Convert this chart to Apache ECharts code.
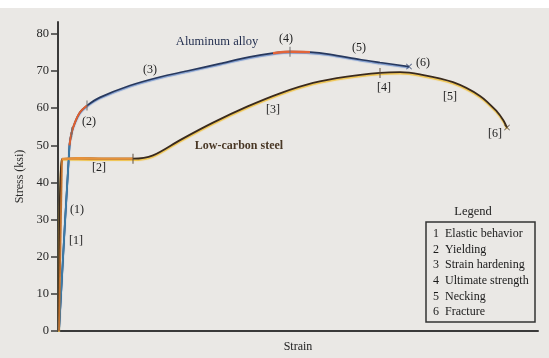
<!DOCTYPE html>
<html>
<head>
<meta charset="utf-8">
<script src="https://cdn.jsdelivr.net/npm/echarts@6/dist/echarts.min.js"></script>
<style>
  html, body { margin: 0; padding: 0; background: #ffffff; }
  #chart { width: 549px; height: 358px; }
</style>
</head>
<body>
<div id="chart"></div>
<script>
// Stress–strain curves for an aluminum alloy and a low-carbon steel.
// Strain is in arbitrary (unlabelled) units, stress in ksi.
const alloyStrain = [0.001, 0.0115, 0.0137, 0.017, 0.022, 0.029, 0.042, 0.072, 0.102, 0.129, 0.162, 0.192, 0.215, 0.232, 0.252, 0.272, 0.302, 0.322, 0.351];
const alloyStress = [0, 50.0, 53.5, 56.2, 58.9, 60.7, 62.9, 66.1, 68.4, 70.0, 72.0, 73.8, 74.8, 75.2, 75.1, 74.5, 73.1, 72.3, 71.2];

const steelStrain = [0.001, 0.004, 0.02, 0.045, 0.075, 0.095, 0.122, 0.155, 0.189, 0.222, 0.255, 0.289, 0.322, 0.342, 0.362, 0.395, 0.422, 0.439, 0.445, 0.449];
const steelStress = [0, 46.3, 46.5, 46.4, 46.4, 47.3, 51.4, 56.1, 60.4, 64.0, 66.8, 68.5, 69.5, 69.7, 69.1, 67.0, 63.3, 59.1, 56.9, 54.8];

const stressTicks = [0, 10, 20, 30, 40, 50, 60, 70, 80];
const legendItems = ['1  Elastic behavior', '2  Yielding', '3  Strain hardening', '4  Ultimate strength', '5  Necking', '6  Fracture'];

// Stage boundaries (indices into the arrays above)
const alloyElastic = [0, 2];
const alloyYield = [1, 5];
const alloyUltimate = [12, 14];
const steelYield = [1, 4];
const alloyTicks = [2, 5, 13];
const steelTicks = [4, 12];

const pairs = (xs, ys) => xs.map((x, i) => [x, ys[i]]);
const slice = (arr, r) => arr.slice(r[0], r[1] + 1);
const alloy = pairs(alloyStrain, alloyStress);
const steel = pairs(steelStrain, steelStress);

const SERIF = '"Liberation Serif", "DejaVu Serif", serif';
const cross = 'path://M0,1L1,0L5,4L9,0L10,1L6,5L10,9L9,10L5,6L1,10L0,9L4,5Z';

function curve(data, color, width, extra) {
  return Object.assign({
    type: 'line', data: data, showSymbol: false, smooth: 0.3,
    lineStyle: { color: color, width: width }, silent: true, z: 3
  }, extra || {});
}

const chart = echarts.init(document.getElementById('chart'), null, { renderer: 'canvas' });

const text = (x, y, t, opts) => Object.assign({
  type: 'text', x: x, y: y,
  style: Object.assign({ text: t, font: '12px ' + SERIF, fill: '#222', align: 'center', verticalAlign: 'middle' }, opts || {})
});

const legendTexts = legendItems.map((t, i) => text(433, 234 + i * 15.6, t, { align: 'left', font: '12px ' + SERIF, fill: '#1a1a1a' }));

chart.setOption({
  animation: false,
  backgroundColor: '#ffffff',
  grid: { left: 58, right: 11, top: 22, bottom: 25 },
  xAxis: {
    type: 'value', min: 0, max: 0.48,
    axisLine: { lineStyle: { color: '#3a3a3a', width: 2 } },
    axisTick: { show: false }, axisLabel: { show: false }, splitLine: { show: false },
    name: 'Strain', nameLocation: 'middle', nameGap: 10,
    nameTextStyle: { fontFamily: SERIF, fontSize: 12, color: '#222', verticalAlign: 'top' }
  },
  yAxis: {
    type: 'value', min: 0, max: 83.2,
    axisLine: { show: true, lineStyle: { color: '#3a3a3a', width: 2 } },
    axisTick: { show: true, length: 7, customValues: stressTicks, lineStyle: { color: '#3a3a3a', width: 1.5 } },
    axisLabel: { customValues: stressTicks, margin: 9, fontFamily: SERIF, fontSize: 12.5, color: '#2a2a2a' },
    splitLine: { show: false },
    name: 'Stress (ksi)', nameLocation: 'middle', nameGap: 29, nameRotate: 90,
    nameTextStyle: { fontFamily: SERIF, fontSize: 12, color: '#2a2a2a' }
  },
  graphic: [
    { type: 'rect', z: -10, shape: { x: 0, y: 8, width: 549, height: 350 }, style: { fill: '#eae8e5' } },
    text(217, 42, 'Aluminum alloy', { fill: '#1f2b4c', font: '12.5px ' + SERIF }),
    text(239, 146, 'Low-carbon steel', { fill: '#4a3826', font: 'bold 12px ' + SERIF }),
    text(77, 210, '(1)'), text(89, 122, '(2)'), text(150, 70, '(3)'),
    text(286, 39, '(4)'), text(359, 48, '(5)'), text(423, 63, '(6)'),
    text(76, 241, '[1]'), text(99, 168, '[2]'), text(273, 110, '[3]'),
    text(384, 88, '[4]'), text(450, 97, '[5]'), text(495, 134, '[6]'),
    text(473, 212, 'Legend', { font: '12.5px ' + SERIF }),
    { type: 'rect', shape: { x: 426, y: 222, width: 109, height: 100 }, style: { fill: 'none', stroke: '#333', lineWidth: 1.5 } }
  ].concat(legendTexts),
  series: [
    // aluminum alloy
    curve(alloy, '#27385e', 1.7, { lineStyle: { color: '#27385e', width: 1.7, shadowColor: 'rgba(90,130,200,0.8)', shadowOffsetY: 1.2, shadowBlur: 1 } }),
    curve(slice(alloy, alloyElastic), '#3b7ca8', 1.8, { z: 4 }),
    curve(slice(alloy, alloyYield), '#e0602f', 2, { z: 4 }),
    curve(slice(alloy, alloyUltimate), '#e2653a', 2.4, { z: 4 }),
    // low-carbon steel
    curve(steel, '#3a2a1c', 1.8, { lineStyle: { color: '#3a2a1c', width: 1.8, shadowColor: '#f0c244', shadowOffsetY: 1.5, shadowBlur: 1 } }),
    curve(slice(steel, [0, 1]), '#c0702c', 1.8, { z: 4, smooth: false }),
    curve(slice(steel, steelYield), '#e8923a', 2.4, { z: 4, smooth: false }),
    // stage boundary ticks and fracture points
    { type: 'scatter', data: alloyTicks.map(i => alloy[i]), symbol: 'rect', symbolSize: [1.2, 10], itemStyle: { color: '#6b6b6b' }, z: 5, silent: true },
    { type: 'scatter', data: steelTicks.map(i => steel[i]), symbol: 'rect', symbolSize: [1.2, 10], itemStyle: { color: '#5a4a3a' }, z: 5, silent: true },
    { type: 'scatter', data: [alloy[alloy.length - 1]], symbol: cross, symbolSize: 6, itemStyle: { color: '#2f4470' }, z: 5, silent: true },
    { type: 'scatter', data: [steel[steel.length - 1]], symbol: cross, symbolSize: 6, itemStyle: { color: '#4a3826' }, z: 5, silent: true }
  ]
});
</script>
</body>
</html>
